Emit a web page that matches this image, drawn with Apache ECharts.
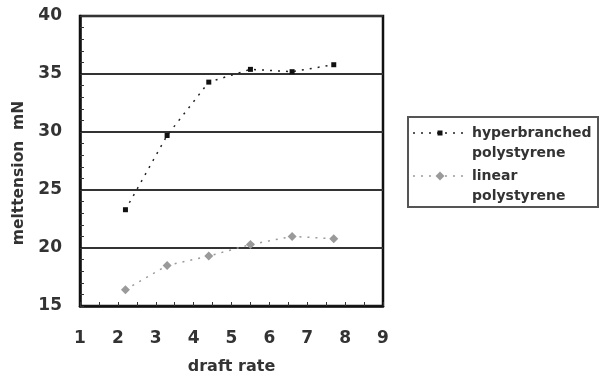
<!DOCTYPE html>
<html>
<head>
<meta charset="utf-8">
<script src="https://cdn.jsdelivr.net/npm/echarts@6/dist/echarts.min.js"></script>
<style>
  html, body { margin: 0; padding: 0; background: #fff; }
  #chart { width: 601px; height: 374px; }
</style>
</head>
<body>
<div id="chart"></div>
<script>
// Melt tension versus draft rate for two polystyrene types
const draftRate = [2.2, 3.3, 4.4, 5.5, 6.6, 7.7];
const hyperbranched = [23.3, 29.7, 34.3, 35.4, 35.2, 35.8];
const linear = [16.4, 18.5, 19.3, 20.3, 21.0, 20.8];
const seriesNames = ['hyperbranched\npolystyrene', 'linear\npolystyrene'];

const FONT = 'DejaVu Sans';
const TXT = '#333';

// Per-series look, shared by the plotted lines and the legend keys
const looks = [
  { symbol: 'rect', size: 5, color: '#111', line: '#222' },
  { symbol: 'diamond', size: 9, color: '#9a9a9a', line: '#9a9a9a' }
];
const DASH = [2, 6];

const pairs = (xs, ys) => xs.map((x, i) => [x, ys[i]]);

// Boxed legend on the right: dotted key line with marker, two-line label
function legendGraphic() {
  const box = { x: 408, y: 117, w: 190, h: 90 };
  const rowTop = [133, 176];
  const els = [{
    type: 'rect', shape: { x: box.x, y: box.y, width: box.w, height: box.h },
    style: { fill: '#fff', stroke: '#555', lineWidth: 2 }
  }];
  seriesNames.forEach((name, i) => {
    const y = rowTop[i];
    const lk = looks[i];
    els.push({
      type: 'line', shape: { x1: 413, y1: y, x2: 467, y2: y },
      style: { stroke: lk.line, lineWidth: 1.5, lineDash: DASH }
    });
    const s = lk.size;
    els.push(lk.symbol === 'rect'
      ? { type: 'rect', shape: { x: 440 - s / 2, y: y - s / 2, width: s, height: s }, style: { fill: lk.color } }
      : { type: 'polygon', shape: { points: [[440, y - s / 2], [440 + s / 2, y], [440, y + s / 2], [440 - s / 2, y]] }, style: { fill: lk.color } });
    els.push({
      type: 'text', x: 472, y: y - 10,
      style: { text: name, fontFamily: FONT, fontWeight: 'bold', fontSize: 14, lineHeight: 20.5, fill: TXT, verticalAlign: 'top' }
    });
  });
  return els;
}

const chart = echarts.init(document.getElementById('chart'), null, { renderer: 'canvas' });
chart.setOption({
  animation: false,
  backgroundColor: '#fff',
  grid: {
    left: 80, right: 218, top: 16, bottom: 68,
    outerBoundsMode: 'none', containLabel: false,
    show: true, borderColor: '#111', borderWidth: 2.5, backgroundColor: 'transparent'
  },
  xAxis: {
    type: 'value', min: 1, max: 9, interval: 1,
    name: 'draft rate', nameLocation: 'middle', nameGap: 53,
    nameTextStyle: { fontFamily: FONT, fontWeight: 'bold', fontSize: 16, color: TXT },
    axisLine: { show: true, lineStyle: { color: '#111', width: 2.5 } },
    axisTick: { show: true, inside: true, length: 4, lineStyle: { color: '#333' } },
    minorTick: { show: true, splitNumber: 2, length: 4, lineStyle: { color: '#333' } },
    axisLabel: { margin: 24, fontFamily: FONT, fontWeight: 'bold', fontSize: 17, color: TXT },
    splitLine: { show: false }
  },
  yAxis: {
    type: 'value', min: 15, max: 40, interval: 5,
    name: 'melttension  mN', nameLocation: 'middle', nameGap: 52,
    nameTextStyle: { fontFamily: FONT, fontWeight: 'bold', fontSize: 15.5, color: TXT, padding: [0, 24, 0, 0] },
    axisLine: { show: true, lineStyle: { color: '#111', width: 2.5 } },
    axisTick: { show: true, inside: true, length: 4, lineStyle: { color: '#333' } },
    minorTick: { show: true, splitNumber: 5, length: 4, lineStyle: { color: '#333' } },
    axisLabel: { margin: 18, fontFamily: FONT, fontWeight: 'bold', fontSize: 17, color: TXT },
    splitLine: { show: true, lineStyle: { color: '#333', width: 2 } }
  },
  graphic: legendGraphic(),
  series: [hyperbranched, linear].map((vals, i) => ({
    name: seriesNames[i], type: 'line', data: pairs(draftRate, vals),
    symbol: looks[i].symbol, symbolSize: looks[i].size,
    itemStyle: { color: looks[i].color },
    lineStyle: { color: looks[i].line, width: 1.5, type: DASH }
  }))
});
</script>
</body>
</html>
